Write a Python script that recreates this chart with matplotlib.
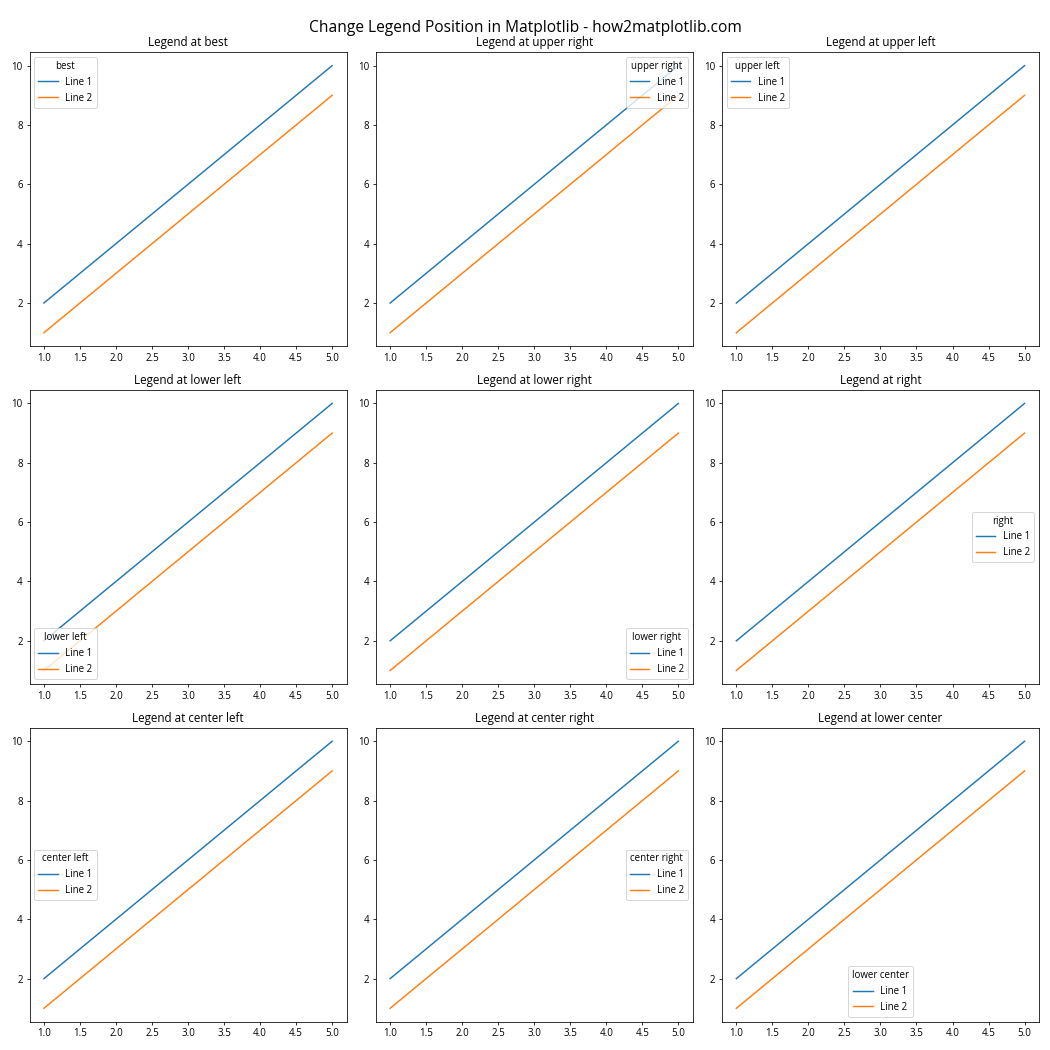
import matplotlib.pyplot as plt

plt.rcParams['font.family'] = ['Open Sans', 'DejaVu Sans']

# data
x = [1, 2, 3, 4, 5]
line1 = [2, 4, 6, 8, 10]
line2 = [1, 3, 5, 7, 9]
locations = ['best', 'upper right', 'upper left',
             'lower left', 'lower right', 'right',
             'center left', 'center right', 'lower center']

fig, axes = plt.subplots(3, 3, figsize=(15, 15), dpi=70)
fig.subplots_adjust(left=0.0281, right=0.9895, top=0.9502, bottom=0.027,
                    wspace=0.092, hspace=0.15)

for ax, loc in zip(axes.flat, locations):
    ax.plot(x, line1, label='Line 1')
    ax.plot(x, line2, label='Line 2')
    ax.legend(loc=loc, title=loc)
    ax.set_title(f'Legend at {loc}')

fig.suptitle('Change Legend Position in Matplotlib - how2matplotlib.com',
             fontsize=16, y=0.973, va='center')

fig.savefig('out.png', dpi=70)
